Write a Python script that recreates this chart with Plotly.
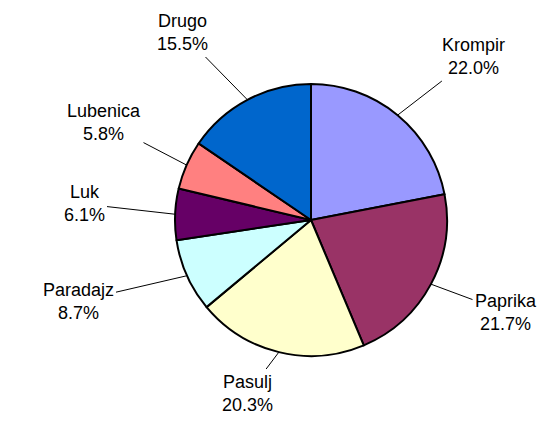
import math

import plotly.graph_objects as go

# Udeo kultura u proizvodnji
labels = ["Krompir", "Paprika", "Pasulj", "Paradajz", "Luk", "Lubenica", "Drugo"]
values = [22.0, 21.7, 20.3, 8.7, 6.1, 5.8, 15.5]
colors = ["#9999FF", "#993366", "#FFFFCC", "#CCFFFF", "#660066", "#FF8080", "#0066CC"]

W, H = 547, 429
cx, cy, r = 311, 220, 136  # pie center / radius in pixels

# label text centers (pixels) for the outside labels
label_pos = {
    "Krompir": (473, 57),
    "Paprika": (506, 312),
    "Pasulj": (248, 393),
    "Paradajz": (78, 301),
    "Luk": (84, 204),
    "Lubenica": (104, 122),
    "Drugo": (182, 33),
}

fig = go.Figure()
fig.add_trace(
    go.Pie(
        labels=labels,
        values=values,
        sort=False,
        direction="clockwise",
        rotation=0,
        textinfo="none",
        hoverinfo="label+percent",
        marker=dict(colors=colors, line=dict(color="black", width=2)),
        domain=dict(
            x=[(cx - r) / W, (cx + r) / W],
            y=[(H - cy - r) / H, (H - cy + r) / H],
        ),
        showlegend=False,
    )
)

# leader lines + labels
total = sum(values)
acc = 0.0
annotations = []
for lab, val in zip(labels, values):
    mid = (acc + val / 2) / total * 2 * math.pi
    acc += val
    tx = cx + r * math.sin(mid)
    ty = cy - r * math.cos(mid)
    lx, ly = label_pos[lab]
    annotations.append(
        dict(
            x=tx / W,
            y=1 - ty / H,
            xref="paper",
            yref="paper",
            ax=lx - tx,
            ay=ly - ty,
            text=f"{lab}<br>{val:.1f}%",
            showarrow=True,
            arrowhead=0,
            arrowwidth=1,
            arrowcolor="black",
            borderpad=2,
            font=dict(family="Liberation Sans, Arial, sans-serif", size=18, color="black"),
            align="center",
        )
    )

fig.update_layout(
    width=W,
    height=H,
    margin=dict(l=0, r=0, t=0, b=0),
    paper_bgcolor="white",
    plot_bgcolor="white",
    annotations=annotations,
)

fig.write_html(
    "out.html",
    config={"displayModeBar": False},
    post_script="document.body.style.margin='0';",
)
